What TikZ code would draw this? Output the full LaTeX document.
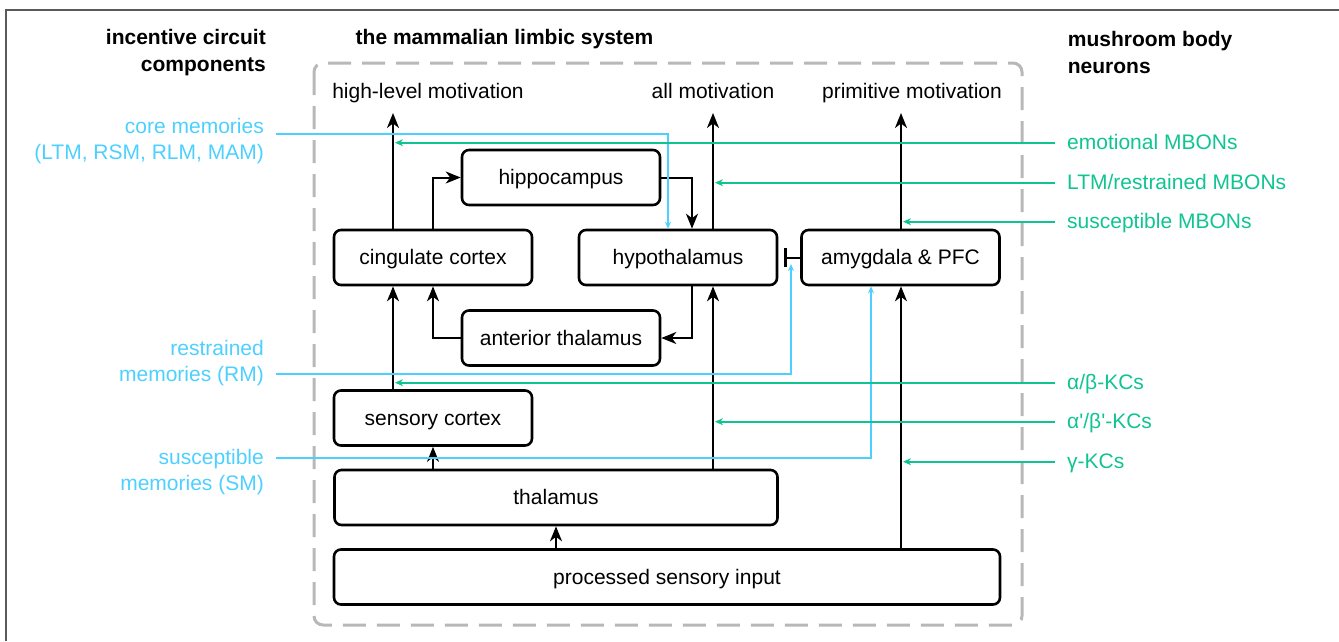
\documentclass[tikz,border=0pt]{standalone}
\usepackage{fontspec}
\setmainfont{Liberation Sans}
\usetikzlibrary{arrows.meta}

\definecolor{memblue}{RGB}{77,208,255}
\definecolor{mbgreen}{RGB}{16,196,146}
\definecolor{boxgray}{RGB}{184,184,184}
\definecolor{edgegray}{RGB}{90,90,90}

\begin{document}
\begin{tikzpicture}[x=1pt,y=-1pt,
    every node/.style={font=\fontsize{21}{26.5}\selectfont, inner sep=0pt},
    lbl/.style={text height=17pt, text depth=3pt},
    title/.style={font=\fontsize{21}{27}\selectfont\bfseries},
    region/.style={draw, line width=2.6pt, rounded corners=7pt, lbl,
        minimum height=55pt, minimum width=198pt},
    link/.style={line width=2pt, -{Stealth[length=15pt,width=12pt,inset=4.5pt]}},
    memlink/.style={memblue, line width=2pt, -{Stealth[length=7pt,width=6pt]}},
    mblink/.style={mbgreen, line width=2.4pt, shorten >=2pt, -{Stealth[length=8pt,width=7pt]}}]

                \useasboundingbox (0,0) rectangle (1339,641);
                \draw[edgegray, line width=1.2pt] (6,641) -- (6,10) -- (1339,10);
                \draw[boxgray, line width=3pt, dash pattern=on 23pt off 11pt, rounded corners=9pt]
                    (314,63) rectangle (1022,625);

                \node[title, align=right, anchor=east] (ictitle) at (266,52.5) {incentive circuit\\components};
                \node[title] (lstitle) at (504.5,39) {the mammalian limbic system};
                \node[title, align=left, anchor=west] (mbtitle) at (1067.7,52.5) {mushroom body\\neurons};

                \node[region] (cing) at (433,257.5) {cingulate cortex};
                \node[region] (hypo) at (678,257.5) {hypothalamus};
                \node[region] (amyg) at (900.5,257.5) {amygdala \& PFC};
                \node[region] (hippo) at (561,177.5) {hippocampus};
                \node[region] (antth) at (561,338) {anterior thalamus};
                \node[region] (senso) at (433,418) {sensory cortex};
                \node[region, minimum width=443pt] (thal) at (556,497.5) {thalamus};
                \node[region, minimum width=666pt] (input) at (667,577) {processed sensory input};

                \node[lbl] (hlm) at (428,91) {high-level motivation};
                \node[lbl] (allm) at (713,91) {all motivation};
                \node[lbl] (prim) at (912,91) {primitive motivation};

                \coordinate[] (hlmtip) at (393,113);
                \coordinate[] (allmtip) at (713,113);
                \coordinate[] (primtip) at (901,113);

                \draw[link] (cing.north -| hlmtip) -- (hlmtip);
                \draw[link] (hypo.north -| allmtip) -- (allmtip);
                \draw[link] (amyg.north -| primtip) -- (primtip);
                \draw[link] (cing.north) |- (hippo.west);
                \draw[link] (hippo.east) -| ([xshift=14pt]hypo.north);
                \draw[link] ([xshift=14pt]hypo.south) |- (antth.east);
                \draw[link] (antth.west) -| (cing.south);
                \draw[link] (senso.north -| hlmtip) -- (cing.south -| hlmtip);
                \draw[link] (thal.north -| senso.south) -- (senso.south);
                \draw[link] (thal.north -| allmtip) -- (hypo.south -| allmtip);
                \draw[link] (input.north -| thal.south) -- (thal.south);
                \draw[link] (input.north -| primtip) -- (amyg.south -| primtip);
                \draw[line width=2pt, -{Bar[width=19pt,line width=2.4pt]}] (amyg.west) -- ([xshift=6pt]hypo.east);

                \node[text=memblue, align=right, anchor=east] (core) at (264,141) {core memories\\(LTM, RSM, RLM, MAM)};
                \node[text=memblue, align=right, anchor=east] (rmem) at (264,363) {restrained\\memories (RM)};
                \node[text=memblue, align=right, anchor=east] (smem) at (264,472) {susceptible\\memories (SM)};

                \coordinate[] (corein) at (276,134);
                \coordinate[] (rmemin) at (276,374);
                \coordinate[] (smemin) at (276,458);
                \coordinate[] (rmemtip) at (791,264);

                \draw[memlink] (corein) -| ([xshift=-10pt]hypo.north);
                \draw[memlink] (rmemin) -| (rmemtip);
                \draw[memlink] (smemin) -| ([xshift=-29.5pt]amyg.south);

                \node[lbl, text=mbgreen, anchor=west] (emo) at (1067,142.7) {emotional MBONs};
                \node[lbl, text=mbgreen, anchor=west] (ltm) at (1067,182.7) {LTM/restrained MBONs};
                \node[lbl, text=mbgreen, anchor=west] (susc) at (1067,221.7) {susceptible MBONs};
                \node[lbl, text=mbgreen, anchor=west] (abkc) at (1067,382.7) {α/β-KCs};
                \node[lbl, text=mbgreen, anchor=west] (apkc) at (1067,421.7) {α\textquotesingle/β\textquotesingle-KCs};
                \node[lbl, text=mbgreen, anchor=west] (gkc) at (1067,461.7) {γ-KCs};

                \draw[mblink] ([xshift=-12pt]emo.west) -- (emo.west -| hlmtip);
                \draw[mblink] ([xshift=-12pt]ltm.west) -- (ltm.west -| allmtip);
                \draw[mblink] ([xshift=-12pt]susc.west) -- (susc.west -| primtip);
                \draw[mblink] ([xshift=-12pt]abkc.west) -- (abkc.west -| hlmtip);
                \draw[mblink] ([xshift=-12pt]apkc.west) -- (apkc.west -| allmtip);
                \draw[mblink] ([xshift=-12pt]gkc.west) -- (gkc.west -| primtip);

            \end{tikzpicture}
\end{document}
